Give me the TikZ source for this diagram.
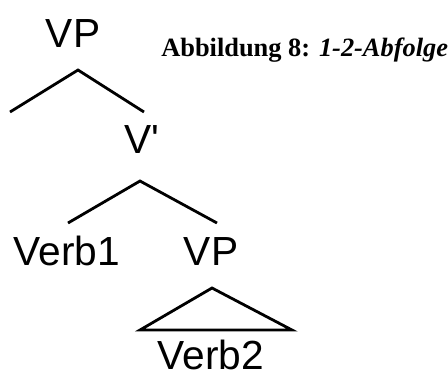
\documentclass[tikz,border=0pt]{standalone}
\usepackage{fontspec}
\setmainfont{Liberation Serif}
\newfontfamily\treefont{Liberation Sans}
\begin{document}
\begin{tikzpicture}[x=0.75pt,y=-0.75pt,
  lbl/.style={font=\treefont\fontsize{30.5}{30.5}\selectfont, inner sep=0pt, anchor=base, text depth=0pt},
  captext/.style={font=\fontsize{19.8}{19.8}\selectfont, inner sep=0pt, anchor=base west},
  br/.style={line width=2.1pt, line cap=butt, line join=miter}]
\useasboundingbox (0,0) rectangle (448,372);
% labels
\node[lbl] (vp1) at (73,47) {VP};
\node[captext] (caption) at (161,56) {\textbf{Abbildung 8:} \textbf{\textit{1-2-Abfolge}}};
\node[lbl] (vbar) at (142,153) {V'};
\node[lbl] (verb1) at (67,265) {Verb1};
\node[lbl] (vp2) at (211,265) {VP};
\node[lbl] (verb2) at (211,369) {Verb2};
% branch points
\coordinate (a1) at (78,70);
\coordinate (a1l) at (10,112);
\coordinate (a1r) at (144,112);
\coordinate (a2) at (140,181);
\coordinate (a2l) at (68,223);
\coordinate (a2r) at (217,223);
\coordinate (t) at (212,288);
\coordinate (tl) at (140,330);
\coordinate (tr) at (292,330);
% connectors
\draw[br] (a1l) -- (a1) -- (a1r);
\draw[br] (a2l) -- (a2) -- (a2r);
\draw[br] (tl) -- (t) -- (tr) -- cycle;
\end{tikzpicture}
\end{document}
